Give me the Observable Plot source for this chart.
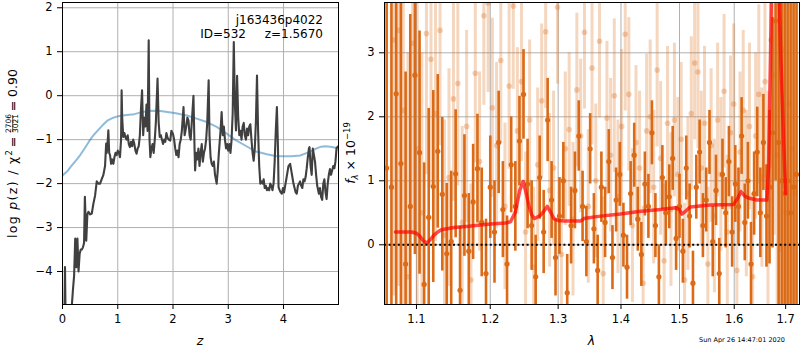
<!DOCTYPE html>
<html>
<head>
<meta charset="utf-8">
<script src="https://cdn.jsdelivr.net/npm/d3@7"></script>
<script src="https://cdn.jsdelivr.net/npm/@observablehq/plot@0.6"></script>
<style>
  html, body { margin: 0; padding: 0; background: white; }
  #wrap { position: relative; width: 800px; height: 350px; background: white; font-family: "DejaVu Sans", sans-serif; }
  #wrap svg { position: absolute; top: 0; }
</style>
</head>
<body>
<div id="wrap"></div>
<script>
// ---------- Data: left panel (redshift probability) ----------
const zTicks = [0, 1, 2, 3, 4];
const pzTicks = [-4, -3, -2, -1, 0, 1, 2];
// [z, log p(z)] noisy chi2 curve
const pzCurve = [
  [0.00,-5.5],[0.03,-5.5],[0.045,-3.9],[0.06,-5.5],[0.10,-5.5],[0.15,-5.0],[0.17,-4.75],[0.19,-4.4],[0.21,-4.1],
  [0.23,-3.25],[0.25,-3.9],[0.27,-3.25],[0.29,-4.0],[0.31,-3.6],[0.33,-3.5],[0.35,-3.5],[0.37,-3.45],[0.39,-3.35],
  [0.405,-2.3],[0.43,-3.3],[0.45,-2.7],[0.47,-2.64],[0.50,-2.7],[0.53,-2.68],[0.56,-2.45],[0.59,-2.27],[0.62,-1.95],
  [0.65,-2.0],[0.68,-2.0],[0.71,-1.9],[0.74,-1.8],[0.77,-1.6],[0.79,-1.09],[0.80,-1.3],[0.81,-1.2],[0.83,-0.79],
  [0.845,-1.3],[0.86,-1.35],[0.88,-1.55],[0.90,-1.45],[0.92,-1.55],[0.94,-1.4],[0.96,-1.3],[0.98,-1.35],[1.00,-1.25],
  [1.02,-1.3],[1.04,-1.4],[1.06,-1.0],[1.07,0.12],[1.08,-0.5],[1.10,-0.94],[1.12,-0.85],[1.14,-0.95],[1.16,-1.0],
  [1.18,-0.9],[1.20,-1.1],[1.22,-1.17],[1.24,-1.05],[1.26,-1.15],[1.28,-1.0],[1.30,-1.1],[1.32,-1.25],[1.34,-1.32],
  [1.36,-1.2],[1.38,-1.15],[1.40,-0.9],[1.42,-0.3],[1.44,0.12],[1.46,-0.9],[1.48,-0.5],[1.50,-0.7],[1.52,-0.2],
  [1.54,-0.8],[1.56,1.26],[1.575,-1.0],[1.59,-1.4],[1.61,-1.2],[1.63,-1.1],[1.65,-1.3],[1.67,-1.0],[1.69,-0.6],
  [1.72,0.39],[1.74,-0.6],[1.76,-0.94],[1.78,-0.9],[1.80,-1.0],[1.82,-1.1],[1.84,-1.0],[1.86,-1.05],[1.88,-0.85],
  [1.90,-0.95],[1.92,-1.0],[1.95,-1.02],[1.97,-0.8],[2.00,-0.87],[2.02,-1.0],[2.04,-1.2],[2.06,-1.35],[2.08,-1.25],
  [2.10,-1.40],[2.12,-1.1],[2.14,-1.0],[2.16,-0.8],[2.19,-0.26],[2.21,-0.9],[2.24,-0.7],[2.26,-0.5],[2.28,-0.56],
  [2.30,-0.9],[2.32,-1.0],[2.34,-0.6],[2.37,0.0],[2.39,-1.2],[2.40,-1.70],[2.42,-1.3],[2.44,-1.45],[2.46,-1.2],
  [2.48,-1.6],[2.50,-1.3],[2.52,-1.1],[2.54,-1.5],[2.56,-1.3],[2.58,-1.2],[2.60,-1.0],[2.62,-0.6],[2.645,0.35],
  [2.66,-0.9],[2.68,-1.4],[2.70,-1.55],[2.72,-1.6],[2.74,-1.5],[2.76,-1.8],[2.79,-2.0],[2.81,-1.7],[2.83,-1.3],
  [2.86,-0.8],[2.88,-0.37],[2.90,-0.9],[2.92,-0.7],[2.94,-1.0],[2.96,-1.2],[2.98,-1.1],[3.00,-1.25],[3.02,-1.1],
  [3.04,-1.3],[3.06,-1.0],[3.08,-0.4],[3.10,1.22],[3.12,-0.2],[3.14,-0.79],[3.16,0.45],[3.18,-0.5],[3.20,-0.9],
  [3.22,-0.8],[3.24,-1.0],[3.26,-0.7],[3.28,-0.62],[3.30,-0.9],[3.32,-1.0],[3.34,-0.75],[3.36,-0.9],[3.38,-0.7],
  [3.40,-0.65],[3.42,-1.0],[3.44,-1.3],[3.46,-1.48],[3.48,-1.2],[3.50,-0.6],[3.52,0.46],[3.54,-0.8],[3.56,-1.6],
  [3.58,-2.0],[3.60,-1.95],[3.62,-2.0],[3.64,-1.9],[3.66,-2.1],[3.68,-2.05],[3.70,-2.15],[3.72,-2.1],[3.74,-2.15],
  [3.76,-2.0],[3.78,-2.05],[3.80,-2.15],[3.82,-2.0],[3.84,-1.5],[3.86,-0.8],[3.88,-0.26],[3.90,-1.2],[3.91,-2.08],
  [3.93,-2.15],[3.95,-2.2],[3.97,-2.23],[3.99,-2.1],[4.01,-2.2],[4.03,-2.05],[4.05,-1.9],[4.07,-1.75],[4.09,-1.6],
  [4.12,-1.55],[4.14,-1.7],[4.16,-1.85],[4.18,-2.0],[4.20,-2.1],[4.22,-2.2],[4.24,-2.23],[4.26,-2.05],[4.28,-2.0],
  [4.30,-1.95],[4.32,-2.05],[4.34,-2.1],[4.36,-1.9],[4.38,-1.95],[4.40,-1.85],[4.42,-1.65],[4.44,-1.4],[4.46,-1.2],
  [4.47,-1.17],[4.49,-1.6],[4.51,-1.8],[4.53,-1.2],[4.55,-1.35],[4.57,-1.5],[4.59,-1.8],[4.61,-2.05],[4.64,-2.23],
  [4.66,-2.1],[4.68,-2.3],[4.70,-2.37],[4.72,-2.0],[4.74,-1.9],[4.76,-2.2],[4.78,-2.35],[4.80,-2.0],[4.82,-1.8],
  [4.84,-1.67],[4.86,-1.8],[4.88,-1.7],[4.90,-1.6],[4.92,-1.65],[4.94,-1.5],[4.96,-1.19],[4.99,-1.15]
];
// [z, log prior] smooth curve
const pzPrior = [
  [0.00,-1.82],[0.02,-1.79],[0.06,-1.75],[0.10,-1.70],[0.14,-1.63],[0.20,-1.54],[0.26,-1.45],[0.32,-1.35],
  [0.40,-1.20],[0.48,-1.04],[0.56,-0.90],[0.64,-0.79],[0.72,-0.68],[0.82,-0.56],[0.92,-0.50],[1.00,-0.47],
  [1.16,-0.44],[1.30,-0.42],[1.42,-0.38],[1.53,-0.35],[1.65,-0.34],[1.77,-0.35],[1.90,-0.37],[2.05,-0.40],
  [2.25,-0.45],[2.40,-0.51],[2.61,-0.60],[2.79,-0.71],[2.97,-0.86],[3.12,-1.00],[3.33,-1.15],[3.50,-1.27],
  [3.70,-1.33],[3.85,-1.37],[4.00,-1.38],[4.15,-1.38],[4.30,-1.36],[4.45,-1.29],[4.60,-1.20],[4.68,-1.16],
  [4.75,-1.15],[4.85,-1.16],[4.92,-1.18],[4.99,-1.20]
];

// ---------- Data: right panel (spectrum) ----------
const lamTicks = [1.1, 1.2, 1.3, 1.4, 1.5, 1.6, 1.7];
const fluxTicks = [0, 1, 2, 3];
// [lambda, flux, error]  darker (first) spectrum
const specA = [
  [1.062,1.2,3.5],[1.068,0.9,3.5],[1.074,2.36,3.5],[1.080,1.27,3.2],[1.086,-0.3,3.0],[1.092,0.6,3.0],[1.098,2.65,2.8],
  [1.104,1.44,1.9],[1.110,-0.62,1.9],[1.116,0.43,1.7],[1.122,0.91,1.5],[1.128,1.46,1.2],[1.134,0.79,1.2],[1.140,-0.14,1.1],
  [1.146,0.05,1.1],[1.152,1.11,1.0],[1.158,-0.71,1.0],[1.164,0.77,0.95],[1.170,-0.1,0.9],[1.176,0.67,0.9],[1.182,1.19,0.85],
  [1.188,0.35,0.85],[1.194,-0.45,0.85],[1.200,0.9,0.8],[1.206,0.2,0.8],[1.212,1.6,0.8],[1.218,0.55,0.75],[1.224,-0.3,0.75],
  [1.230,1.25,0.75],[1.236,0.6,0.7],[1.242,1.62,0.7],[1.248,2.35,0.7],[1.254,0.95,0.7],[1.260,0.3,0.7],[1.266,-0.5,0.65],
  [1.272,1.05,0.65],[1.278,0.2,0.65],[1.284,1.95,0.65],[1.290,0.7,0.6],[1.296,-0.2,0.6],[1.302,0.45,0.6],[1.308,1.0,0.6],
  [1.314,-0.75,0.6],[1.320,0.3,0.6],[1.326,0.85,0.6],[1.332,1.7,0.55],[1.338,0.6,0.55],[1.344,0.05,0.55],[1.350,1.5,0.55],
  [1.356,0.25,0.55],[1.362,-0.4,0.55],[1.368,0.9,0.55],[1.374,0.35,0.55],[1.380,1.3,0.5],[1.386,-0.2,0.5],[1.392,0.7,0.5],
  [1.398,1.1,0.5],[1.404,0.15,0.5],[1.410,-0.35,0.5],[1.416,0.8,0.5],[1.422,1.4,0.5],[1.428,0.4,0.5],[1.434,-0.15,0.5],
  [1.440,0.95,0.5],[1.446,0.6,0.5],[1.452,1.75,0.5],[1.458,0.3,0.5],[1.464,-0.5,0.5],[1.470,1.05,0.5],[1.476,0.5,0.5],
  [1.482,0.75,0.5],[1.488,1.35,0.5],[1.494,0.1,0.5],[1.500,0.6,0.5],[1.506,-0.1,0.5],[1.512,1.2,0.5],[1.518,0.45,0.5],
  [1.524,-0.6,0.5],[1.530,0.9,0.5],[1.536,1.45,0.5],[1.542,0.3,0.5],[1.548,0.7,0.5],[1.554,1.6,0.5],[1.560,0.05,0.55],
  [1.566,0.85,0.55],[1.572,-0.45,0.55],[1.578,1.1,0.55],[1.584,0.5,0.55],[1.590,1.3,0.55],[1.596,0.2,0.55],[1.602,0.95,0.6],
  [1.608,0.6,0.6],[1.614,1.7,0.6],[1.620,0.35,0.6],[1.626,1.0,0.6],[1.632,-0.3,0.65],[1.638,0.8,0.65],[1.644,1.45,0.7],
  [1.650,0.5,0.7],[1.656,1.6,0.75],[1.662,0.45,0.8],[1.668,0.9,1.2],[1.674,1.75,1.8],[1.680,3.5,2.5],[1.686,1.6,3.5],
  [1.692,1.0,5],[1.698,0.8,5],[1.704,1.0,5],[1.710,0.5,5],[1.716,0.9,5],[1.722,1.1,5]
];
// [lambda, flux, error]  lighter (second) spectrum
const specB = [
  [1.071,3.2,4],[1.077,3.35,4],[1.083,2.1,3.5],[1.089,-0.5,3.5],[1.095,3.15,3],[1.101,1.5,3],[1.107,0.5,2.5],
  [1.113,3.3,2.2],[1.119,2.9,2],[1.125,2.05,2],[1.131,3.35,1.8],[1.137,0.15,1.8],[1.143,1.05,1.7],[1.149,2.28,1.6],
  [1.155,2.52,1.6],[1.161,0.35,1.5],[1.167,1.85,1.5],[1.173,-0.55,1.5],[1.179,2.68,1.4],[1.185,1.3,1.4],[1.191,3.58,1.4],
  [1.197,3.78,1.4],[1.203,2.14,1.4],[1.209,1.55,1.3],[1.215,2.88,1.3],[1.221,0.6,1.3],[1.227,2.48,1.3],[1.233,3.73,1.3],
  [1.239,1.78,1.3],[1.245,2.55,1.25],[1.251,0.2,1.25],[1.257,1.95,1.25],[1.263,-0.35,1.25],[1.269,1.25,1.2],[1.275,2.25,1.2],
  [1.281,3.33,1.2],[1.287,0.85,1.2],[1.293,1.2,1.2],[1.299,3.71,1.2],[1.305,-0.15,1.2],[1.311,1.5,1.2],[1.317,1.8,1.2],
  [1.323,0.4,1.2],[1.329,2.42,1.2],[1.335,1.7,1.2],[1.341,3.32,1.2],[1.347,0.6,1.2],[1.353,2.76,1.2],[1.359,1.0,1.2],
  [1.365,3.18,1.2],[1.371,-0.45,1.2],[1.377,1.98,1.2],[1.383,1.4,1.2],[1.389,2.33,1.2],[1.395,0.75,1.2],[1.401,1.85,1.2],
  [1.407,3.29,1.2],[1.413,2.35,1.2],[1.419,0.3,1.2],[1.425,1.6,1.2],[1.431,1.2,1.2],[1.437,-0.6,1.2],[1.443,1.78,1.2],
  [1.449,2.0,1.2],[1.455,0.9,1.2],[1.461,2.73,1.2],[1.467,1.35,1.2],[1.473,-0.25,1.2],[1.479,1.9,1.2],[1.485,0.55,1.2],
  [1.491,1.95,1.2],[1.497,1.1,1.2],[1.503,1.65,1.2],[1.509,-0.55,1.2],[1.515,0.8,1.2],[1.521,2.05,1.2],[1.527,2.84,1.2],
  [1.533,2.7,1.2],[1.539,1.2,1.2],[1.545,1.9,1.2],[1.551,-0.3,1.2],[1.557,1.55,1.2],[1.563,0.45,1.2],[1.569,1.95,1.2],
  [1.575,1.1,1.2],[1.581,2.4,1.2],[1.587,0.2,1.2],[1.593,1.75,1.2],[1.599,2.2,1.25],[1.605,-0.4,1.25],[1.611,1.45,1.25],
  [1.617,2.1,1.25],[1.623,0.8,1.3],[1.629,1.85,1.3],[1.635,-0.5,1.3],[1.641,1.7,1.3],[1.647,2.35,1.4],[1.653,1.05,1.4],
  [1.659,2.55,1.5],[1.665,0.7,1.7],[1.671,3.2,2.0],[1.677,2.65,2.5],[1.683,1.4,3],[1.689,3.38,3.5],[1.695,3.05,4],
  [1.701,0.5,4.5],[1.707,2.2,5],[1.713,1.5,5],[1.719,0.8,5]
];
// [lambda, flux] best-fit model
const model = [
  [1.073,0.20],[1.085,0.20],[1.094,0.20],[1.100,0.18],[1.104,0.14],[1.109,0.06],[1.114,0.03],[1.118,0.08],[1.123,0.15],
  [1.128,0.20],[1.132,0.23],[1.140,0.25],[1.150,0.27],[1.170,0.29],[1.186,0.31],[1.205,0.33],[1.222,0.34],[1.229,0.36],
  [1.236,0.51],[1.2425,0.85],[1.2475,0.99],[1.252,0.80],[1.256,0.61],[1.260,0.47],[1.264,0.41],[1.268,0.43],[1.273,0.46],
  [1.278,0.52],[1.2833,0.60],[1.288,0.52],[1.2934,0.41],[1.300,0.38],[1.310,0.37],[1.335,0.37],[1.340,0.41],[1.360,0.44],
  [1.399,0.48],[1.430,0.52],[1.466,0.55],[1.493,0.58],[1.500,0.55],[1.5043,0.48],[1.510,0.52],[1.519,0.59],[1.555,0.62],
  [1.5985,0.63],[1.606,0.72],[1.613,0.83],[1.620,0.76],[1.627,0.73],[1.643,0.70],[1.6628,0.70],[1.666,1.2],[1.670,3.0],
  [1.674,5.0],[1.679,6.0],[1.684,5.0],[1.690,3.0],[1.696,1.6],[1.700,0.80]
];

// ---------- Styling ----------
const ORANGE = "#dc6a16";
const GRID = "#b0b0b0";
const minus = d => (d < 0 ? "\u2212" + Math.abs(d) : String(d));
const baseStyle = {fontFamily: "DejaVu Sans, sans-serif", fontSize: "11.5px", color: "black", background: "white", overflow: "visible"};

const left = Plot.plot({
  width: 345, height: 350,
  marginLeft: 62, marginRight: 7, marginTop: 2, marginBottom: 46,
  style: baseStyle,
  x: {domain: [0, 4.995]},
  y: {domain: [-4.75, 2.12]},
  marks: [
    Plot.gridX(zTicks, {stroke: GRID, strokeOpacity: 1, strokeWidth: 1}),
    Plot.gridY(pzTicks, {stroke: GRID, strokeOpacity: 1, strokeWidth: 1}),
    Plot.line(pzPrior, {x: d => d[0], y: d => d[1], stroke: "#1f77b4", strokeOpacity: 0.5, strokeWidth: 2, clip: true}),
    Plot.line(pzCurve, {x: d => d[0], y: d => d[1], stroke: "#404040", strokeWidth: 2.1, clip: true}),
    Plot.frame({stroke: "black", strokeWidth: 1}),
    Plot.axisX(zTicks, {tickSize: 5, tickPadding: 5, tickFormat: minus, label: null}),
    Plot.axisY(pzTicks, {tickSize: 5, tickPadding: 5, tickFormat: minus, label: null})
  ]
});

const right = Plot.plot({
  width: 455, height: 350,
  marginLeft: 39, marginRight: 1, marginTop: 2, marginBottom: 46,
  style: baseStyle,
  x: {type: "log", domain: [1.0593, 1.728]},
  y: {domain: [-0.933, 3.786]},
  marks: [
    Plot.gridX(lamTicks, {stroke: GRID, strokeOpacity: 1, strokeWidth: 1}),
    Plot.gridY(fluxTicks, {stroke: GRID, strokeOpacity: 1, strokeWidth: 1}),
    Plot.ruleX(specA, {x: d => d[0], y1: d => d[1] - d[2], y2: d => d[1] + d[2], stroke: ORANGE, strokeWidth: 2.6, clip: true}),
    Plot.dot(specA, {x: d => d[0], y: d => d[1], r: 2.6, fill: ORANGE, stroke: "none", clip: true}),
    Plot.ruleX(specB, {x: d => d[0], y1: d => d[1] - d[2], y2: d => d[1] + d[2], stroke: ORANGE, strokeOpacity: 0.28, strokeWidth: 3, clip: true}),
    Plot.dot(specB, {x: d => d[0], y: d => d[1], r: 2.8, fill: ORANGE, fillOpacity: 0.3, stroke: "none", clip: true}),
    Plot.line(model, {x: d => d[0], y: d => d[1], stroke: "red", strokeOpacity: 0.7, strokeWidth: 3.5, clip: true}),
    Plot.ruleY([0], {stroke: "black", strokeWidth: 2, strokeDasharray: "2,2.6"}),
    Plot.frame({stroke: "black", strokeWidth: 1}),
    Plot.axisX(lamTicks, {tickSize: 5, tickPadding: 5, tickFormat: d => d.toFixed(1), label: null}),
    Plot.axisY(fluxTicks, {tickSize: 5, tickPadding: 5, tickFormat: minus, label: null})
  ]
});

const wrap = document.getElementById("wrap");
left.style.left = "0px";
right.style.left = "345px";
wrap.appendChild(left);
wrap.appendChild(right);

// ---------- Text labels ----------
const sL = d3.select(left);
sL.append("text").attr("x", 323).attr("y", 24).attr("text-anchor", "end").attr("font-size", 12).attr("fill", "black").text("j163436p4022");
sL.append("text").attr("x", 246).attr("y", 38).attr("text-anchor", "end").attr("font-size", 12).attr("fill", "black").text("ID=532");
sL.append("text").attr("x", 323).attr("y", 38).attr("text-anchor", "end").attr("font-size", 12).attr("fill", "black").text("z=1.5670");
sL.append("text").attr("x", 200).attr("y", 345).attr("text-anchor", "middle").attr("font-size", 12.5).attr("font-style", "italic").attr("fill", "black").text("z");

// rotated y-label with a stacked fraction (positions along the text direction)
const g = sL.append("g").attr("font-size", 12.5).attr("fill", "black").attr("text-anchor", "start")
  .attr("transform", "translate(17,238) rotate(-90)");
const t1 = g.append("text").attr("x", 0).attr("text-anchor", "start").attr("textLength", 88).attr("lengthAdjust", "spacing");
t1.append("tspan").text("log ");
t1.append("tspan").attr("font-style", "italic").text("p");
t1.append("tspan").text("(z) / \u03C7");
t1.append("tspan").attr("font-size", 8.5).attr("dy", -5).text("2");
g.append("text").attr("x", 96).attr("text-anchor", "middle").text("=");
g.append("text").attr("font-size", 7.5).attr("text-anchor", "middle").attr("x", 114.5).attr("y", -6).text("2706");
g.append("text").attr("font-size", 7.5).attr("text-anchor", "middle").attr("x", 114.5).attr("y", 0.5).text("3021");
g.append("line").attr("stroke", "black").attr("stroke-width", 0.7).attr("x1", 106).attr("x2", 123).attr("y1", -4.3).attr("y2", -4.3);
g.append("text").attr("x", 132).attr("text-anchor", "middle").text("=");
g.append("text").attr("x", 141).attr("text-anchor", "start").text("0.90");

const sR = d3.select(right);
sR.append("text").attr("x", 246.5).attr("y", 345).attr("text-anchor", "middle").attr("font-size", 12.5).attr("font-style", "italic").attr("fill", "black").text("\u03BB");
const yl = sR.append("text").attr("transform", "translate(10,153) rotate(-90)").attr("text-anchor", "middle").attr("font-size", 12.5).attr("fill", "black");
yl.append("tspan").attr("font-style", "italic").text("f");
yl.append("tspan").attr("font-size", 8.5).attr("font-style", "italic").attr("dy", 2.5).text("\u03BB");
yl.append("tspan").attr("dy", -2.5).text(" \u00D7 10");
yl.append("tspan").attr("font-size", 8.5).attr("dy", -5).text("\u221219");
sR.append("text").attr("x", 397).attr("y", 342).attr("text-anchor", "middle").attr("font-size", 6.5).attr("fill", "black").text("Sun Apr 26 14:47:01 2020");
</script>
</body>
</html>
